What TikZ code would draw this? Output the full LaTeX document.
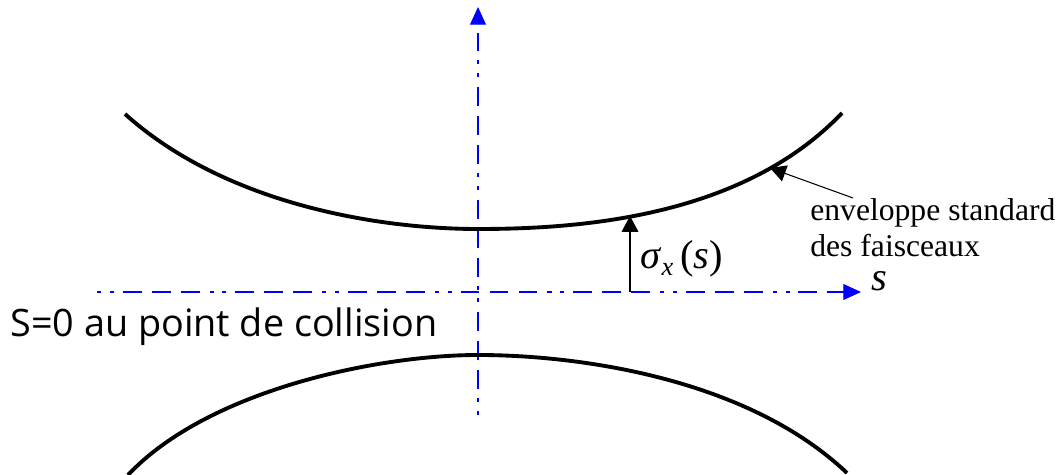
\documentclass[tikz,border=0pt]{standalone}
\usepackage{fontspec}
\setmainfont{Liberation Serif}
\newfontfamily\handfont{Open Sans}
\usetikzlibrary{arrows.meta,positioning}

\begin{document}
\begin{tikzpicture}[
    x=0.02cm, y=-0.02cm,
    axe/.style={blue, line width=0.6pt, -{Triangle[length=10pt,width=9pt]},
        dash pattern=on 2.3pt off 5pt on 2.3pt off 5pt on 10.8pt off 5.7pt on 10.8pt off 5.7pt on 10.8pt off 5.7pt},
    env/.style={line width=2.2pt},
    arr/.style={-{Triangle[length=9pt,width=9.5pt]}, line width=0.6pt},
    lbl/.style={font=\fontsize{18}{20.5}\selectfont, align=left, inner sep=0pt},
    sym/.style={font=\fontsize{23}{25}\selectfont, inner sep=0pt}
]
\useasboundingbox (0,0) rectangle (1060,475);

% axes
\coordinate (sbeg) at (97,292);
\coordinate (send) at (861,292);
\coordinate (vbeg) at (478,415);
\coordinate (vend) at (478,7);
\draw[axe] (sbeg) -- (send);
\draw[axe] (vbeg) -- (vend);

% enveloppes
\draw[env] (125,114) .. controls (225,204) and (378,229) .. (478,229)
    .. controls (578,229) and (742,218) .. (842,113);
\draw[env] (128,475) .. controls (208,390) and (378,355) .. (478,355)
    .. controls (578,355) and (747,378) .. (847,473);

% sigma
\coordinate (sbase) at (630,292);
\coordinate (stop) at (630,216);
\draw[arr] (sbase) -- (stop);
\node[sym, anchor=base west] (sig) at (640,269)
    {\textit{σ}\raisebox{-0.35ex}{\fontsize{15}{15}\selectfont\textit{x}}\,(\textit{s})};
\node[sym, anchor=base west] (slbl) at (871,291) {\textit{s}};

% legende
\node[lbl, anchor=north west] (envtxt) at (810,198) {enveloppe standard\\des faisceaux};
\coordinate (envpt) at (770,168);
\draw[arr] ([xshift=0.86cm]envtxt.north west) -- (envpt);

\node[anchor=base west, inner sep=0pt, font=\handfont\fontsize{21.5}{23}\selectfont] (coll) at (10,337) {S=0 au point de collision};
\end{tikzpicture}
\end{document}
